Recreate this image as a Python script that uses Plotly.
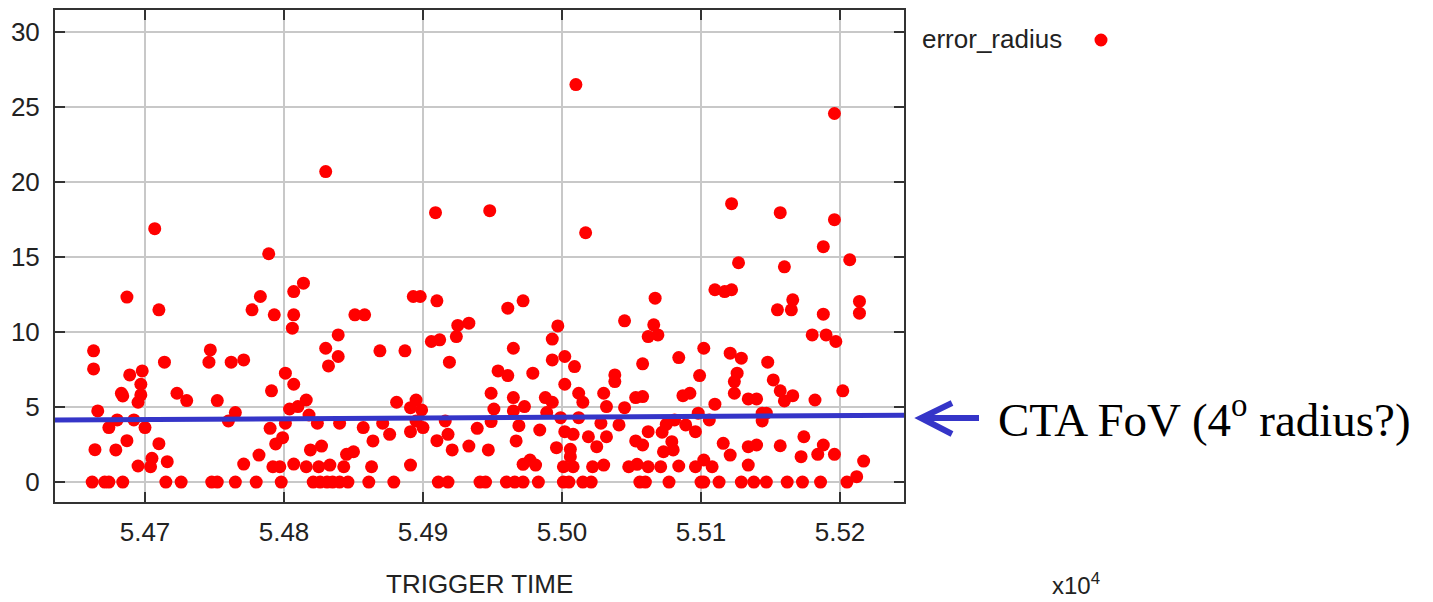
import plotly.graph_objects as go

# Trigger times (raw units) and the error radius of each burst
trigger_time = [
    # 5.466 - 5.473
    54687, 54710, 54663, 54663, 54714, 54689, 54698, 54697, 54683, 54684,
    54697, 54695, 54723, 54730, 54666, 54680, 54674, 54692, 54700, 54687,
    54710, 54664, 54679, 54705, 54695, 54704, 54716, 54662, 54671, 54674,
    54684, 54715, 54726, 54707,
    # 5.474 - 5.484
    54783, 54807, 54814, 54777, 54793, 54807, 54806, 54747, 54746, 54762,
    54771, 54830, 54832, 54839, 54839, 54801, 54807, 54791, 54752, 54765,
    54760, 54804, 54810, 54816, 54818, 54824, 54801, 54790, 54799, 54794,
    54782, 54771, 54792, 54797, 54807, 54816, 54819, 54827, 54825, 54833,
    54748, 54752, 54765, 54780, 54798, 54821, 54826, 54831, 54835, 54840,
    54789, 54830,
    # 5.484 - 5.494
    54893, 54898, 54910, 54851, 54858, 54925, 54933, 54924, 54906, 54912,
    54869, 54887, 54919, 54881, 54895, 54891, 54899, 54895, 54857, 54871,
    54876, 54864, 54891, 54900, 54916, 54918, 54910, 54921, 54933, 54939,
    54845, 54850, 54843, 54863, 54891, 54840,
    54846, 54861, 54879, 54911, 54918, 54941,
    54909, 54948,
    # 5.494 - 5.504
    54972, 54961, 54997, 54993, 54965, 54993, 55002, 55009, 54954, 54961,
    54979, 55002, 55038, 55038, 54949, 54965, 54973, 54988, 54993, 55012,
    55015, 55030, 55032, 54951, 54965, 54989, 54999, 55012, 54949, 54969,
    54984, 55002, 55008, 55019, 55028, 55032, 55025, 54967, 54947, 54996,
    55006, 55006, 54972, 54977, 54981, 55001, 55008, 55022, 55030,
    54945, 54960, 54966, 54972, 54983, 55001, 55005, 55015, 55021,
    55010, 55017,
    # 5.504 - 5.514
    55110, 55117, 55122, 55067, 55045, 55066, 55069, 55062, 55102, 55084,
    55121, 55129, 55058, 55099, 55126, 55124, 55124, 55053, 55058, 55087,
    55092, 55134, 55140, 55110, 55045, 55098, 55106, 55041, 55075, 55081,
    55089, 55062, 55072, 55096, 55053, 55058, 55079, 55080, 55073, 55116,
    55121, 55134, 55140, 55134, 55048, 55054, 55062, 55071, 55084, 55096,
    55102, 55108,
    55056, 55060, 55077, 55100, 55102, 55113, 55129, 55138,
    55122, 55127,
    # 5.514 - 5.522
    55166, 55165, 55155, 55188, 55214, 55214, 55180, 55190, 55197, 55148,
    55152, 55157, 55160, 55166, 55182, 55202, 55144, 55147, 55144, 55174,
    55157, 55188, 55184, 55196, 55172, 55217,
    55147, 55162, 55173, 55186, 55205, 55212,
    55157, 55196, 55196, 55188, 55207, 55160,
]

error_radius = [
    12.33, 11.48, 8.75, 7.54, 7.99, 7.14, 7.41, 6.52, 5.92, 5.74,
    5.81, 5.32, 5.92, 5.43, 4.74, 4.14, 3.63, 4.14, 3.63, 2.76,
    2.56, 2.16, 2.14, 1.58, 1.07, 1.02, 1.36, 0, 0, 0,
    0, 0, 0, 16.89,
    12.37, 12.70, 13.26, 11.48, 11.15, 11.15, 10.26, 8.81, 7.99, 7.99,
    8.14, 8.92, 7.74, 9.81, 8.37, 7.26, 6.52, 6.08, 5.43, 4.63,
    4.07, 4.87, 5.03, 5.47, 4.47, 3.92, 3.92, 3.58, 2.96, 2.54,
    1.80, 1.20, 1.02, 1.02, 1.20, 1.02, 2.14, 2.40, 1.02, 1.13,
    0, 0, 0, 0, 0, 0, 0, 0, 0, 0,
    15.22, 20.70,
    12.37, 12.37, 12.08, 11.15, 11.15, 10.44, 10.59, 9.70, 9.37, 9.48,
    8.75, 8.75, 7.99, 5.32, 5.47, 4.96, 4.81, 4.07, 3.63, 3.92,
    3.18, 2.74, 3.36, 3.63, 4.07, 3.18, 2.76, 2.14, 2.40, 3.58,
    1.85, 2.02, 1.02, 1.02, 1.13, 3.92,
    0, 0, 0, 0, 0, 0,
    17.96, 18.09,
    12.08, 11.59, 10.41, 9.53, 8.92, 8.14, 8.37, 7.70, 7.41, 7.10,
    7.26, 6.52, 7.14, 6.70, 5.92, 5.63, 5.03, 5.63, 5.32, 5.92,
    5.32, 5.92, 5.03, 4.87, 4.74, 4.63, 4.29, 4.29, 4.03, 3.76,
    3.47, 3.36, 3.18, 3.02, 3.92, 3.02, 2.36, 2.74, 2.14, 2.29,
    2.18, 1.69, 1.18, 1.47, 1.13, 1.02, 1.02, 1.02, 1.13,
    0, 0, 0, 0, 0, 0, 0, 0, 0,
    26.50, 16.62,
    12.82, 12.70, 12.82, 12.26, 10.75, 10.48, 9.81, 9.70, 8.92, 8.30,
    8.59, 8.26, 7.88, 7.10, 7.26, 6.70, 5.92, 5.63, 5.70, 5.76,
    5.92, 5.54, 5.54, 5.19, 4.96, 4.59, 4.14, 3.81, 3.85, 4.14,
    3.81, 3.36, 3.32, 3.36, 2.74, 2.47, 2.69, 2.14, 2.02, 2.58,
    1.80, 2.36, 2.47, 1.13, 1.02, 1.18, 1.02, 1.02, 1.07, 1.02,
    1.47, 1.02,
    0, 0, 0, 0, 0, 0, 0, 0,
    18.56, 14.62,
    12.15, 11.48, 11.48, 11.19, 12.04, 11.26, 9.81, 9.81, 9.37, 7.99,
    6.81, 6.08, 5.41, 5.76, 5.47, 6.08, 4.59, 4.59, 4.07, 3.02,
    2.42, 2.47, 1.85, 1.85, 1.69, 1.40,
    0, 0, 0, 0, 0, 0.36,
    17.96, 24.57, 17.49, 15.69, 14.82, 14.35,
]

x_tick_values = [5.47, 5.48, 5.49, 5.50, 5.51, 5.52]
x_tick_labels = ["5.47", "5.48", "5.49", "5.50", "5.51", "5.52"]
y_tick_values = [0, 5, 10, 15, 20, 25, 30]

# CTA field-of-view reference line (error radius at left and right ends)
fov_line = [4.13, 4.45]
fov_label = "CTA FoV (4<sup>o</sup> radius?)"
series_name = "error_radius"

X_RANGE = [5.463525, 5.524604]
Y_RANGE = [-1.33, 31.47]

# plot area in pixels
L, R, T, B = 55, 529, 10, 100
W, H = 1433, 602
PW, PH = W - L - R, H - T - B


def px_x(px):
    return (px - L) / PW


def px_y(py):
    return (H - B - py) / PH


AXIS_FONT = dict(family="Liberation Sans, Arial, sans-serif", size=26, color="#222222")
BLUE = "#3535c8"

fig = go.Figure()
fig.add_trace(go.Scatter(
    x=[t / 1e4 for t in trigger_time],
    y=error_radius,
    mode="markers",
    name=series_name,
    marker=dict(color="#ff0000", size=13, line=dict(width=0)),
    showlegend=False,
))

axis_common = dict(
    showline=True, linecolor="#333333", linewidth=2, mirror="ticks",
    ticks="inside", ticklen=10, tickwidth=2, tickcolor="#333333",
    showgrid=True, gridcolor="#c8c8c8", gridwidth=1.5,
    zeroline=False, tickfont=AXIS_FONT, automargin=False,
)

fig.update_layout(
    width=W, height=H,
    margin=dict(l=L, r=R, t=T, b=B, pad=0),
    paper_bgcolor="white", plot_bgcolor="white",
    xaxis=dict(range=X_RANGE, tickvals=x_tick_values, ticktext=x_tick_labels,
               ticklabelstandoff=6,
               **axis_common),
    yaxis=dict(range=Y_RANGE, tickvals=y_tick_values, ticklabelstandoff=8,
               **axis_common),
)

# x axis title
fig.add_annotation(xref="paper", yref="paper", x=0.5, y=px_y(601),
                   xanchor="center", yanchor="bottom", showarrow=False,
                   text="TRIGGER TIME", font=AXIS_FONT)

# field-of-view line across the plot
fig.add_shape(type="line", xref="paper", yref="y",
              x0=0, x1=1, y0=fov_line[0], y1=fov_line[1],
              line=dict(color=BLUE, width=5))

# arrow pointing at the line
fig.add_shape(type="line", xref="paper", yref="paper",
              x0=px_x(979), x1=px_x(923), y0=px_y(418), y1=px_y(418),
              line=dict(color=BLUE, width=6))
fig.add_shape(type="path", xref="paper", yref="paper",
              path=(f"M {px_x(952)} {px_y(403)} L {px_x(921)} {px_y(418)} "
                    f"L {px_x(952)} {px_y(434)}"),
              line=dict(color=BLUE, width=6))

fig.add_annotation(xref="paper", yref="paper", x=px_x(996), y=px_y(416),
                   xanchor="left", yanchor="middle", showarrow=False,
                   text=fov_label,
                   font=dict(family="Liberation Serif, Times New Roman, serif",
                             size=47, color="black"))

# legend entry: label followed by the marker
fig.add_annotation(xref="paper", yref="paper", x=px_x(920), y=px_y(39),
                   xanchor="left", yanchor="middle", showarrow=False,
                   text=series_name, font=AXIS_FONT)
r = 6.5
fig.add_shape(type="circle", xref="paper", yref="paper",
              x0=px_x(1101 - r), x1=px_x(1101 + r),
              y0=px_y(40 + r), y1=px_y(40 - r),
              fillcolor="#ff0000", line=dict(width=0))

# exponent of the x axis
fig.add_annotation(xref="paper", yref="paper", x=px_x(1050), y=px_y(601),
                   xanchor="left", yanchor="bottom", showarrow=False,
                   text="x10<sup>4</sup>",
                   font=dict(family="Liberation Sans, Arial, sans-serif",
                             size=24, color="#222222"))

fig.write_html("out.html")
